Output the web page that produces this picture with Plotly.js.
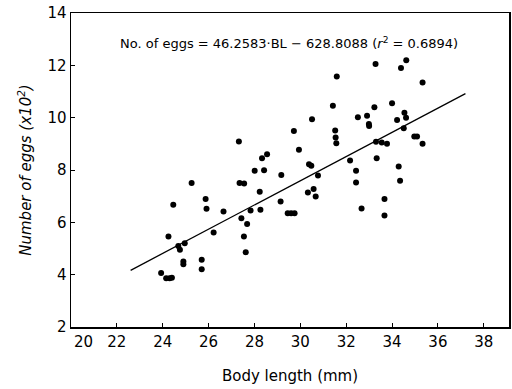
<!DOCTYPE html>
<html>
<head>
<meta charset="utf-8">
<script src="https://cdn.plot.ly/plotly-3.0.1.min.js"></script>
<style>
html,body{margin:0;padding:0;background:#fff;}
#chart{width:512px;height:389px;}
</style>
</head>
<body>
<div id="chart"></div>
<script>
// Body length (mm)
const bodyLength = [23.93,24.15,24.3,24.4,24.25,24.46,24.68,24.75,24.96,24.9,24.9,25.26,25.7,25.7,25.87,25.91,26.22,26.65,
  27.32,27.35,27.55,27.43,27.68,27.54,27.62,27.83,28.01,28.23,28.26,28.33,28.42,28.55,29.17,29.14,29.45,29.6,29.75,29.72,29.94,
  30.33,30.38,30.48,30.51,30.58,30.67,30.77,31.42,31.52,31.54,31.57,31.59,32.17,32.43,32.43,32.51,32.67,32.91,32.99,33.0,
  33.23,33.28,33.3,33.55,33.78,33.33,33.67,33.67,34.0,34.22,34.29,34.35,34.39,34.51,34.54,34.61,34.62,34.97,35.09,35.33,35.33];
// Number of eggs (x10^2)
const eggs = [4.06,3.86,3.86,3.88,5.46,6.67,5.1,4.95,5.2,4.5,4.4,7.5,4.57,4.21,6.89,6.52,5.61,6.41,
  9.09,7.5,7.48,6.16,5.94,5.46,4.86,6.45,7.97,7.17,6.48,8.45,7.99,8.6,7.81,6.8,6.35,6.35,6.35,9.49,8.77,
  7.14,8.22,8.16,9.94,7.27,6.99,7.79,10.46,9.51,9.24,9.02,11.57,8.36,7.97,7.52,10.02,6.53,10.07,9.76,9.68,
  10.4,12.05,9.08,9.05,9.0,8.45,6.89,6.26,10.55,9.91,8.13,7.59,11.9,9.6,10.19,10.0,12.19,9.28,9.28,11.34,9.0];
// Regression: No. of eggs = 46.2583*BL - 628.8088
const slope = 46.2583;
const intercept = -628.8088;
const lineX = [22.6, 37.2];
const lineY = lineX.map(x => (slope * x + intercept) / 100);
const xTicks = [20,22,24,26,28,30,32,34,36,38];
const yTicks = [2,4,6,8,10,12,14];

const font = "DejaVu Sans, sans-serif";

const traces = [
  {x: bodyLength, y: eggs, type: 'scatter', mode: 'markers',
   marker: {color: '#000', size: 6}, hoverinfo: 'skip'},
  {x: lineX, y: lineY, type: 'scatter', mode: 'lines',
   line: {color: '#000', width: 1.3}, hoverinfo: 'skip'}
];

// the first x tick label sits just right of the y axis in the reference
const firstX = xTicks[0];
const restX = xTicks.slice(1);

const layout = {
  width: 512, height: 389,
  margin: {l: 71, r: 3, t: 13, b: 62},
  paper_bgcolor: '#fff', plot_bgcolor: '#fff',
  showlegend: false,
  font: {family: font, color: '#000', size: 15},
  xaxis: {
    range: [20, 39.1], tickvals: xTicks, ticktext: [''].concat(restX.map(String)),
    ticks: 'inside', ticklen: 4, tickcolor: '#000', tickwidth: 1,
    showline: true, linecolor: '#000', linewidth: 1.5, mirror: true,
    showgrid: false, zeroline: false,
    tickfont: {family: font, size: 15, color: '#000'},
    title: {text: 'Body length (mm)', font: {family: font, size: 15, color: '#000'}, standoff: 21},
    automargin: false
  },
  yaxis: {
    range: [2, 14], tickvals: yTicks, ticktext: yTicks.map(String),
    ticks: 'inside', ticklen: 4, tickcolor: '#000', tickwidth: 1,
    showline: true, linecolor: '#000', linewidth: 1.5, mirror: true,
    showgrid: false, zeroline: false,
    tickfont: {family: font, size: 15, color: '#000'},
    title: {text: '<i>Number of eggs (x10<sup>2</sup>)</i>', font: {family: font, size: 15, color: '#000'}, standoff: 12},
    automargin: false
  },
  annotations: [{
    xref: 'paper', yref: 'paper', x: 0.497, y: 0.905, xanchor: 'center', yanchor: 'middle',
    text: 'No. of eggs = 46.2583·BL − 628.8088 (<i>r</i><sup>2</sup> = 0.6894)',
    showarrow: false, font: {family: font, size: 13, color: '#000'}
  }, {
    xref: 'x', yref: 'paper', x: firstX, y: 0, xanchor: 'left', yanchor: 'top',
    xshift: 1, yshift: -4, text: String(firstX), showarrow: false,
    font: {family: font, size: 15, color: '#000'}
  }]
};

Plotly.newPlot('chart', traces, layout, {displayModeBar: false, staticPlot: true});
</script>
</body>
</html>
